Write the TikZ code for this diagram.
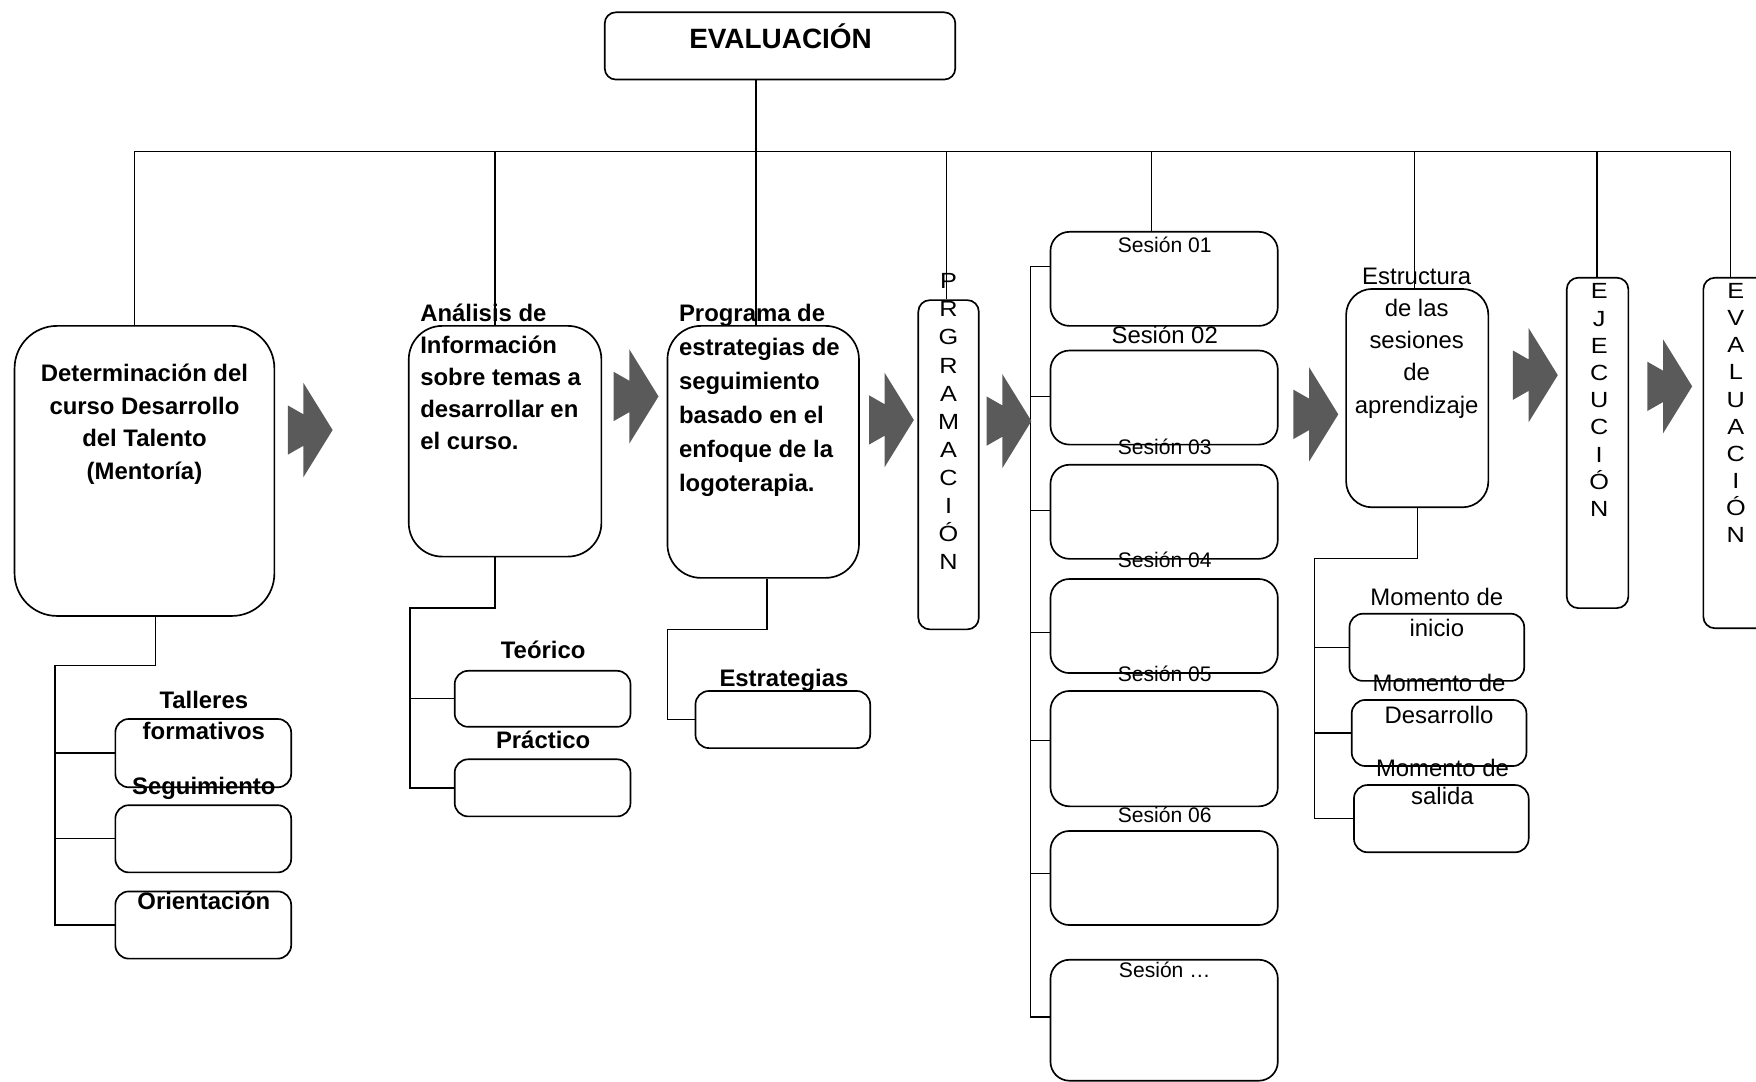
\documentclass[tikz,border=0pt]{standalone}
\usepackage{fontspec}
\setmainfont{Liberation Sans}
\newfontfamily\letrasfont{Liberation Sans}[FakeStretch=1.15]
\usetikzlibrary{positioning,fit,calc}
\definecolor{GrisFlecha}{HTML}{5A5A5A}

\begin{document}
\begin{tikzpicture}[
  x=0.0224cm, y=-0.0224cm,
  caja/.style={draw=black, line width=0.95pt, rounded corners=#1, inner sep=0pt},
  linea/.style={line width=0.75pt},
  titulo/.style={font=\bfseries\fontsize{15.9}{19}\selectfont, inner sep=0pt, anchor=north},
  negrita/.style={font=\bfseries\fontsize{13.6}{#1}\selectfont, inner sep=0pt},
  negrita/.default=17pt,
  texto/.style={font=\fontsize{13.6}{#1}\selectfont, inner sep=0pt, align=center, anchor=north},
  sesion/.style={font=\fontsize{12}{14}\selectfont, inner sep=0pt, anchor=north},
  letras/.style={font=\letrasfont\fontsize{12.5}{#1}\selectfont, inner sep=0pt, align=center, anchor=north},
  flecha/.style={fill=GrisFlecha}]
\useasboundingbox (0,0) rectangle (1568,966);
\clip (0,0) rectangle (1568,966);

% caja superior
\node[caja=0.22cm, fit={(540,11) (853,71)}] (ev) {};
\node[titulo] (evt) at (697,21) {EVALUACIÓN};

% bloques principales
\node[caja=0.85cm, fit={(13,291) (245,550)}] (det) {};
\node[negrita=18.5pt, align=center, anchor=north] (dett) at (129,325) {Determinación del\\curso Desarrollo\\del Talento\\(Mentoría)};
\node[caja=0.67cm, fit={(365,291) (537,497)}] (ana) {};
\node[negrita=18.2pt, align=left, anchor=north west] (anat) at (375,271) {Análisis de\\Información\\sobre temas a\\desarrollar en\\el curso.};
\node[caja=0.67cm, fit={(596,291) (767,516)}] (pro) {};
\node[negrita=19.4pt, align=left, anchor=north west] (prot) at (606,271) {Programa de\\estrategias de\\seguimiento\\basado en el\\enfoque de la\\logoterapia.};
\node[caja=0.23cm, fit={(820,268) (874,562)}] (prg) {};
\node[letras=16pt] (prgt) at (847,244) {P\\R\\G\\R\\A\\M\\A\\C\\I\\Ó\\N};
\node[caja=0.52cm, fit={(1202,258) (1329,453)}] (est) {};
\node[texto=18.3pt] (estt) at (1265,239) {Estructura\\de las\\sesiones\\de\\aprendizaje};
\node[caja=0.23cm, fit={(1399,248) (1454,543)}] (eje) {};
\node[letras=15.5pt] (ejet) at (1428,253) {E\\J\\E\\C\\U\\C\\I\\Ó\\N};
\node[caja=0.23cm, fit={(1521,248) (1600,561)}] (eva) {};
\node[letras=15.4pt] (evat) at (1550,253) {E\\V\\A\\L\\U\\A\\C\\I\\Ó\\N};

% cajas de detalle
\node[caja=0.27cm, fit={(103,642) (260,703)}] (t1) {};
\node[caja=0.27cm, fit={(103,719) (260,779)}] (t2) {};
\node[caja=0.27cm, fit={(103,796) (260,856)}] (t3) {};
\node[negrita=17.8pt, align=center, anchor=north] (t1t) at (182,617) {Talleres\\formativos};
\node[negrita, anchor=north] (t2t) at (182,694) {Seguimiento};
\node[negrita, anchor=north] (t3t) at (182,796) {Orientación};
\node[caja=0.27cm, fit={(406,599) (563,649)}] (teo) {};
\node[caja=0.27cm, fit={(406,678) (563,729)}] (pra) {};
\node[negrita, anchor=north] (teot) at (485,572) {Teórico};
\node[negrita, anchor=north] (prat) at (485,652) {Práctico};
\node[caja=0.27cm, fit={(621,617) (777,668)}] (estr) {};
\node[negrita, anchor=north] (estrt) at (700,597) {Estrategias};

% sesiones
\foreach \n/\ya/\yb in {s1/207/291, s2/313/397, s3/415/499, s4/517/601, s5/617/720, s6/742/826, s7/857/965}
  \node[caja=0.38cm, fit={(938,\ya) (1141,\yb)}] (\n) {};
\node[sesion] (s1t) at (1040,211) {Sesión 01};
\node[sesion, font=\fontsize{13.6}{16}\selectfont] (s2t) at (1040,291) {Sesión 02};
\node[sesion] (s3t) at (1040,392) {Sesión 03};
\node[sesion] (s4t) at (1040,493) {Sesión 04};
\node[sesion] (s5t) at (1040,594) {Sesión 05};
\node[sesion] (s6t) at (1040,720) {Sesión 06};
\node[sesion] (s7t) at (1040,859) {Sesión …};

% momentos
\node[caja=0.27cm, fit={(1205,548) (1361,608)}] (m1) {};
\node[caja=0.27cm, fit={(1207,625) (1363,684)}] (m2) {};
\node[caja=0.27cm, fit={(1209,701) (1365,761)}] (m3) {};
\node[texto=17.8pt] (m1t) at (1283,525) {Momento de\\inicio};
\node[texto=18.1pt] (m2t) at (1285,602) {Momento de\\Desarrollo};
\node[texto=15.6pt] (m3t) at (1288,678) {Momento de\\salida};

% linea superior
\coordinate (bi) at (120,135);
\coordinate (bd) at (1545,135);
\draw[linea] (bi |- det.north) -- (bi) -- (bd) -- (bd |- eva.north);
\foreach \x/\n in {442/ana, 845/prg, 1028/s1, 1263/est, 1426/eje}
  \draw[linea] (\x,135) -- (\x,135 |- \n.north);
\draw[linea] (675,0 |- ev.south) -- (675,0 |- pro.north);

% ramas
\coordinate (ri) at (49,594);
\draw[linea] (139,0 |- det.south) |- (ri) -- (ri |- t3.west) -- (t3.west);
\foreach \n in {t1,t2} \draw[linea] (ri |- \n.west) -- (\n.west);
\coordinate (ra) at (366,543);
\draw[linea] (442,0 |- ana.south) |- (ra) -- (ra |- pra.west) -- (pra.west);
\draw[linea] (ra |- teo.west) -- (teo.west);
\coordinate (rp) at (596,562);
\draw[linea] (685,0 |- pro.south) |- (rp) -- (rp |- estr.west) -- (estr.west);
\coordinate (rs) at (920,238);
\draw[linea] (rs) -- (920,908);
\foreach \n/\y in {s1/238, s2/354, s3/456, s4/565, s5/661, s6/780, s7/908}
  \draw[linea] (920,\y) -- (\n.west |- 920,\y);
\coordinate (re) at (1174,499);
\draw[linea] (est.south) |- (re) -- (re |- m3.west) -- (m3.west);
\foreach \n in {m1,m2} \draw[linea] (re |- \n.west) -- (\n.west);

% flechas
\foreach \p in {(297,384), (588,354), (816,375), (921,376), (1195,370), (1391,335), (1511,345)}
  \fill[flecha] \p ++(-40,-22) -- ++(14,8) -- ++(0,-28) -- ++(26,42) -- ++(-26,42) -- ++(0,-28) -- ++(-14,8) -- cycle;
\end{tikzpicture}
\end{document}
